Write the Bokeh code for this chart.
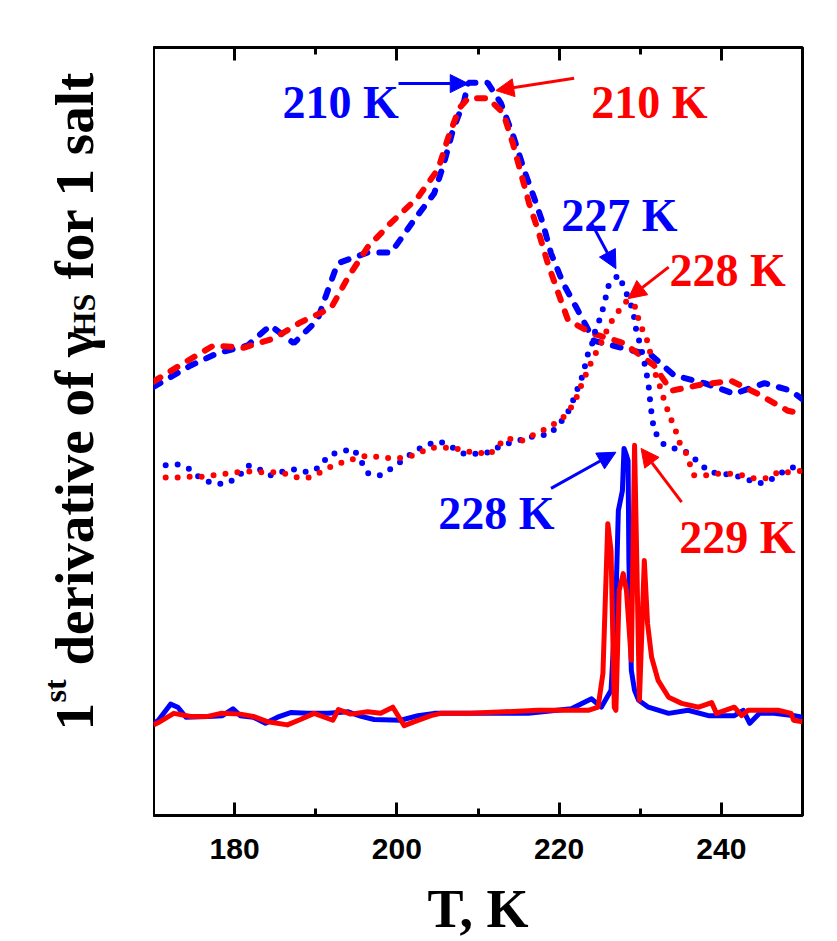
import math
from bokeh.plotting import figure
from bokeh.layouts import row
from bokeh.models import (LinearAxis, FixedTicker, Range1d, Label, Arrow, NormalHead)
from bokeh.core.properties import value
from bokeh.embed import file_html
from bokeh.resources import INLINE

# ---------------- data (T in K, derivative in arbitrary units, offset per curve) -------------
T_dash_blue = [170.0, 174.6, 177.9, 181.6, 184.4, 187.3, 190.2, 191.5, 192.7, 196.4, 199.3, 202.1,
               204.6, 205.8, 206.9, 208.3, 208.8, 211.2, 212.8, 214.4, 215.7, 216.9, 218.0, 219.0,
               220.5, 222.3, 224.3, 227.7, 231.4, 234.2, 237.9, 241.6, 245.3, 248.6, 250.0]
y_dash_blue = [55.8, 58.6, 60.2, 61.2, 63.8, 61.5, 64.5, 68.4, 71.9, 73.3, 73.3, 77.5,
               81.0, 84.9, 89.2, 93.1, 95.4, 95.4, 92.8, 88.3, 84.0, 80.5, 77.1, 73.2,
               69.3, 65.8, 61.8, 60.9, 59.9, 57.3, 56.3, 54.9, 56.3, 55.3, 54.2]

T_dash_red = [170.0, 173.7, 177.4, 181.1, 184.8, 188.1, 191.9, 194.0, 196.4, 199.3, 202.6, 205.1,
              206.3, 207.7, 208.8, 211.2, 213.1, 214.3, 215.3, 216.3, 217.4, 218.6, 219.9, 221.1,
              224.0, 228.0, 231.7, 233.8, 237.5, 241.2, 244.5, 248.2, 250.0]
y_dash_red = [56.5, 58.9, 61.2, 60.9, 62.1, 64.2, 66.1, 70.1, 74.0, 77.2, 80.5, 84.2,
              88.2, 92.1, 93.4, 93.4, 91.5, 87.5, 83.6, 79.7, 76.2, 71.9, 68.0, 64.5,
              62.8, 61.5, 58.6, 55.3, 56.1, 56.6, 54.9, 52.7, 52.3]

T_dot_blue = [171.5, 173.0, 174.3, 175.8, 177.4, 178.9, 180.4, 181.6, 183.0, 184.4, 186.0, 187.5,
              189.0, 190.4, 191.6, 193.1, 194.7, 195.6, 196.5, 197.9, 199.5, 200.9, 202.3, 203.8,
              205.3, 206.9, 208.3, 209.8, 211.6, 212.8, 214.3, 215.9, 217.2, 218.8, 219.9, 221.0,
              221.7, 222.9, 223.6, 224.2, 224.5, 225.1, 225.5, 226.1, 227.3, 228.0, 229.1, 229.5,
              230.1, 230.6, 231.0, 231.3, 231.7, 232.8, 234.2, 235.7, 237.2, 238.5, 240.2, 241.6,
              243.1, 244.6, 245.9, 247.7, 249.0, 250.0]
y_dot_blue = [45.6, 45.7, 45.2, 43.9, 43.2, 43.2, 44.0, 45.6, 45.1, 44.3, 44.8, 45.1,
              44.7, 45.3, 46.9, 47.4, 47.7, 46.1, 44.5, 44.3, 45.3, 46.4, 47.5, 48.3,
              48.7, 47.9, 47.1, 47.1, 47.3, 48.2, 48.6, 49.1, 49.5, 49.6, 50.8, 52.3,
              54.0, 57.3, 60.3, 61.8, 63.4, 64.8, 66.4, 69.0, 70.4, 68.8, 65.8, 63.2,
              60.9, 58.5, 56.3, 53.1, 50.1, 48.4, 47.8, 47.3, 46.0, 44.7, 44.5, 44.3,
              43.8, 43.2, 43.6, 44.8, 45.4, 45.6]

T_dot_red = [171.5, 173.0, 174.3, 175.8, 177.4, 178.9, 180.4, 181.7, 183.2, 184.8, 186.3, 187.8,
             189.1, 190.6, 192.2, 193.7, 195.2, 196.5, 198.0, 199.6, 201.1, 202.6, 204.0, 205.4,
             207.0, 208.5, 210.0, 211.4, 213.4, 215.6, 217.1, 218.7, 220.4, 221.4, 222.0, 222.6,
             223.5, 224.2, 224.9, 226.3, 227.2, 228.4, 229.5, 229.8, 230.4, 231.0, 231.6, 232.2,
             233.1, 233.7, 234.3, 234.7, 235.6, 236.6, 238.0, 239.5, 241.1, 242.6, 244.0, 245.7,
             247.0, 248.5, 250.0]
y_dot_red = [44.0, 44.0, 44.1, 44.1, 44.3, 44.5, 44.7, 44.8, 44.7, 44.7, 44.5, 44.0,
             44.0, 44.7, 45.6, 46.1, 46.6, 46.9, 46.6, 46.5, 46.6, 47.1, 47.9, 47.9,
             47.9, 47.4, 47.3, 47.0, 49.1, 48.8, 49.7, 50.5, 51.7, 53.0, 54.0, 55.7,
             57.9, 59.6, 60.9, 64.1, 65.5, 67.1, 66.1, 64.5, 62.9, 61.5, 58.2, 56.6,
             53.6, 51.8, 50.4, 48.8, 47.3, 44.3, 44.3, 44.5, 44.5, 44.3, 43.9, 43.9,
             44.7, 44.7, 44.9]

T_solid_blue = [170.0, 170.6, 172.1, 173.0, 174.0, 176.7, 178.5, 179.8, 180.7, 182.3, 183.8, 185.3,
                186.9, 189.0, 191.5, 194.0, 195.6, 197.2, 200.5, 202.6, 204.6, 209.1, 216.2, 221.5,
                224.0, 225.2, 226.4, 227.0, 227.3, 227.8, 228.0, 228.3, 228.5, 228.6, 228.9, 229.3,
                229.8, 231.0, 233.5, 235.9, 238.4, 241.6, 242.7, 243.5, 244.7, 246.5, 249.0, 250.0]
y_solid_blue = [12.0, 12.4, 14.5, 14.1, 12.8, 12.9, 13.0, 13.9, 13.0, 12.8, 12.0, 12.8,
                13.4, 13.3, 13.3, 13.5, 12.9, 12.5, 12.4, 13.0, 13.3, 13.3, 13.3, 13.9,
                15.2, 14.1, 16.3, 28.0, 39.7, 42.3, 47.8, 46.9, 46.2, 33.2, 18.9, 16.3,
                15.0, 14.1, 13.3, 13.7, 13.0, 13.0, 13.7, 12.0, 13.3, 13.3, 13.0, 12.8]

T_solid_red = [170.0, 170.6, 172.5, 174.6, 176.7, 178.3, 180.7, 182.3, 184.1, 186.5, 188.1, 189.8,
               192.1, 192.8, 194.3, 196.4, 198.0, 199.5, 200.9, 202.1, 204.2, 205.4, 209.1, 217.4,
               223.6, 224.8, 225.4, 226.0, 226.4, 226.8, 227.0, 227.4, 227.9, 228.3, 228.9, 229.3,
               229.9, 230.5, 230.9, 231.4, 232.2, 233.5, 235.1, 237.2, 238.8, 239.4, 241.6, 242.5,
               243.3, 247.0, 248.6, 248.9, 250.0]
y_solid_red = [11.8, 12.1, 13.3, 12.9, 12.9, 13.3, 13.2, 12.9, 12.2, 11.8, 12.5, 13.3,
               12.4, 13.8, 13.2, 13.5, 13.3, 14.1, 11.7, 12.2, 13.0, 13.3, 13.3, 13.7,
               13.7, 14.1, 18.5, 38.0, 34.5, 14.1, 13.7, 29.3, 31.5, 29.3, 20.2, 48.2,
               15.0, 33.2, 25.0, 20.6, 17.6, 15.4, 14.6, 14.1, 14.7, 13.3, 14.1, 13.0,
               13.7, 13.7, 13.3, 12.4, 12.2]

x_ticks = [180, 200, 220, 240]
x_minor = [170, 190, 210, 230, 250]

BLUE = "#0000FF"
RED = "#FF0000"
SERIF = "Liberation Serif"

LEFT_W = 153
H = 941

p = figure(width=837 - LEFT_W, height=H, output_backend="svg", toolbar_location=None,
           x_range=Range1d(170, 250), y_range=Range1d(0, 100),
           min_border_left=0, min_border_right=35, min_border_top=47, min_border_bottom=126,
           background_fill_color="white", border_fill_color="white")
p.outline_line_color = "black"
p.outline_line_width = 3
p.grid.visible = False
p.yaxis.visible = False

ax = p.xaxis[0]
ax.ticker = FixedTicker(ticks=x_ticks, minor_ticks=x_minor)
ax.axis_line_color = None
ax.major_tick_in = 13
ax.major_tick_out = 0
ax.minor_tick_in = 7
ax.minor_tick_out = 0
ax.major_tick_line_width = 3
ax.minor_tick_line_width = 3
ax.major_label_text_font = "Liberation Sans"
ax.major_label_text_font_style = "bold"
ax.major_label_text_font_size = "30px"
ax.major_label_text_color = "black"
ax.major_label_standoff = 23
ax.axis_label = "T, K"
ax.axis_label_text_font = SERIF
ax.axis_label_text_font_style = "bold"
ax.axis_label_text_font_size = "54px"
ax.axis_label_text_color = "black"
ax.axis_label_standoff = 17

top = LinearAxis(ticker=FixedTicker(ticks=x_ticks, minor_ticks=x_minor),
                 axis_line_color=None, major_tick_in=13, major_tick_out=0,
                 minor_tick_in=7, minor_tick_out=0, major_tick_line_width=3,
                 minor_tick_line_width=3, major_label_standoff=0,
                 major_label_overrides={t: "" for t in x_ticks})
p.add_layout(top, "above")

# curves
p.line(T_dash_blue, y_dash_blue, line_color=BLUE, line_width=6, line_dash="8 12", line_cap="round")
p.line(T_dash_red, y_dash_red, line_color=RED, line_width=6, line_dash="8 12", line_cap="round")
p.line(T_dot_blue, y_dot_blue, line_color=BLUE, line_width=6, line_dash="0 12", line_cap="round")
p.line(T_dot_red, y_dot_red, line_color=RED, line_width=6, line_dash="0 12", line_cap="round")
p.line(T_solid_blue, y_solid_blue, line_color=BLUE, line_width=5, line_join="round")
p.line(T_solid_red, y_solid_red, line_color=RED, line_width=5, line_join="round")

# annotations
def lab(x, y, text, color):
    p.add_layout(Label(x=x, y=y, text=text, text_color=color, text_font=SERIF,
                       text_font_style="bold", text_font_size="46px",
                       text_align="left", text_baseline="alphabetic"))

def arr(x0, y0, x1, y1, color):
    p.add_layout(Arrow(end=NormalHead(size=18, fill_color=color, line_color=color),
                       x_start=x0, y_start=y0, x_end=x1, y_end=y1,
                       line_color=color, line_width=3))

lab(185.9, 92.9, "210 K", BLUE)
arr(200.2, 95.3, 208.8, 95.3, BLUE)
lab(223.95, 92.9, "210 K", RED)
arr(221.85, 96.0, 212.2, 94.4, RED)
lab(220.25, 78.1, "227 K", BLUE)
arr(223.95, 77.2, 227.0, 71.2, BLUE)
lab(233.6, 71.0, "228 K", RED)
arr(233.5, 71.4, 228.5, 67.3, RED)
lab(205.1, 39.3, "228 K", BLUE)
arr(219.0, 42.6, 227.0, 47.3, BLUE)
lab(234.8, 36.2, "229 K", RED)
arr(235.1, 40.8, 230.1, 47.8, RED)

# left panel holding the y-axis title (pixel-like coordinates, y measured from the top)
q = figure(frame_width=LEFT_W, frame_height=H, output_backend="svg", toolbar_location=None,
           x_range=Range1d(0, LEFT_W), y_range=Range1d(H, 0),
           x_axis_location=None, y_axis_location=None,
           min_border=0, background_fill_color="white", border_fill_color="white")
q.title.visible = False
q.outline_line_color = None
q.grid.visible = False

y_title_parts = ["1", "st", "derivative of \u03b3", "HS", "for 1 salt"]
y_title_sizes = ["55px", "32px", "55px", "32px", "55px"]
y_title_x = [74, 54, 74, 83, 74]
y_title_y = [683, 655, 618, 289, 232]
for t, s, xx, yy in zip(y_title_parts, y_title_sizes, y_title_x, y_title_y):
    q.text(x=[xx], y=[yy], text=[t], angle=math.pi / 2, text_color="black",
           text_font=value(SERIF), text_font_style="bold", text_font_size=s,
           text_align="left", text_baseline="alphabetic")

layout = row(q, p)
open("out.html", "w").write(file_html(layout, INLINE))
